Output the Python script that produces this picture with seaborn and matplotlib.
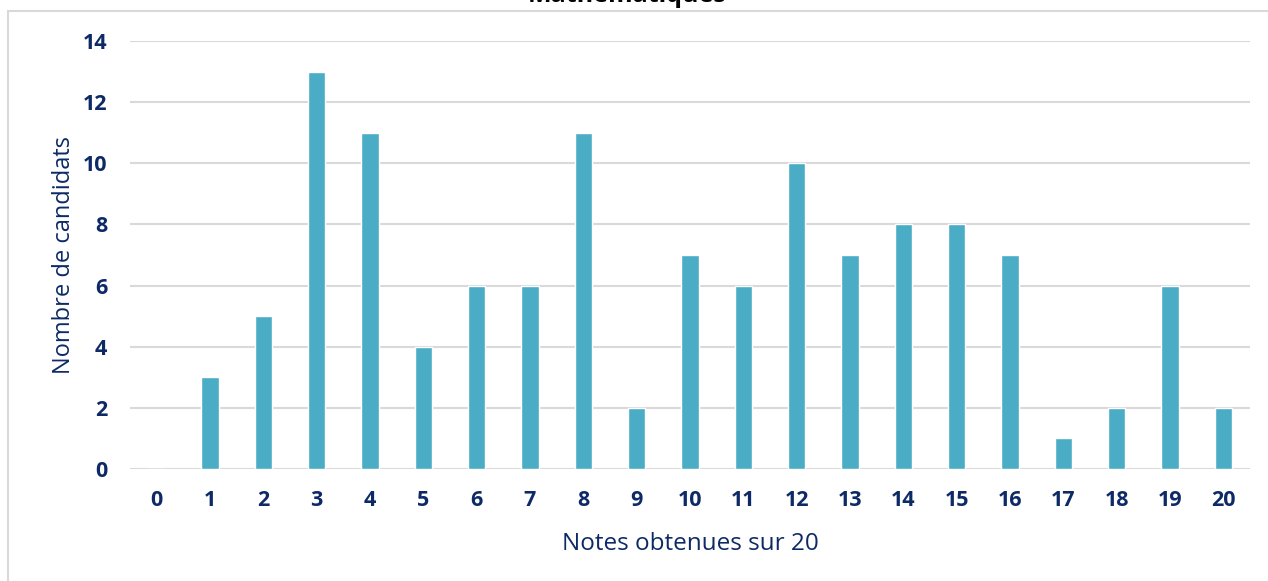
import numpy as np
import pandas as pd
import seaborn as sns
import matplotlib.pyplot as plt
from matplotlib.patches import Rectangle

notes = [str(n) for n in range(21)]
candidats = [0, 3, 5, 13, 11, 4, 6, 6, 11, 2, 7, 6, 10, 7, 8, 8, 7, 1, 2, 6, 2]
y_ticks = [0, 2, 4, 6, 8, 10, 12, 14]

navy = "#0e2a66"
bar_color = "#4bacc6"
grid_color = "#d9d9d9"

sns.set_theme(style="white")
plt.rcParams['font.family'] = ['Open Sans', 'DejaVu Sans']

df = pd.DataFrame({"note": notes, "candidats": candidats})

fig = plt.figure(figsize=(12.68, 5.81), dpi=100)
ax = fig.add_axes([130 / 1268, 1 - 469 / 581, 1120 / 1268, 428 / 581])

sns.barplot(data=df, x="note", y="candidats", order=notes, color=bar_color,
            width=0.32, saturation=1, ax=ax, zorder=3)

ax.set_ylim(0, 14)
ax.set_yticks(y_ticks)
ax.set_xlim(-0.5, 20.5)
ax.yaxis.grid(True, color=grid_color, linewidth=1.5, zorder=0)
ax.set_axisbelow(True)
for s in ax.spines.values():
    s.set_visible(False)
ax.tick_params(axis="both", length=0, colors=navy, labelsize=15.5)
ax.tick_params(axis="x", pad=15)
ax.tick_params(axis="y", pad=16.5)
for lab in ax.get_xticklabels() + ax.get_yticklabels():
    lab.set_fontweight("bold")

ax.set_xlabel("Notes obtenues sur 20", color=navy, fontsize=17.5, labelpad=15)
ax.set_ylabel("Nombre de candidats", color=navy, fontsize=17, labelpad=5)

# chart frame
fig.patches.append(Rectangle((8 / 1268, -0.1), 1.2, 1 - 11 / 581 + 0.1,
                             transform=fig.transFigure, fill=False,
                             edgecolor=grid_color, linewidth=1.5))

fig.text(627 / 1268, 1 - 2 / 581, "Mathématiques", ha="center", va="baseline",
         fontsize=18, fontweight="bold", color="black")

fig.savefig("out.png", dpi=100)
